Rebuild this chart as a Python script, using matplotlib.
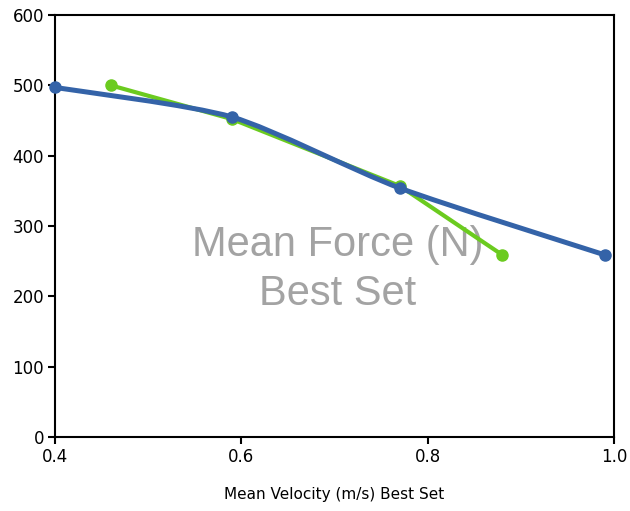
import matplotlib
matplotlib.use("Agg")
import matplotlib.pyplot as plt
from matplotlib.path import Path
from matplotlib.patches import PathPatch

# green series (straight segments)
green_x = [0.46, 0.59, 0.77, 0.88]
green_y = [500, 452, 357, 259]

# blue series (smoothed line)
blue_x = [0.40, 0.59, 0.77, 0.99]
blue_y = [497, 455, 354, 259]

x_ticks = [0.4, 0.6, 0.8, 1.0]
x_tick_labels = ["0.4", "0.6", "0.8", "1.0"]
y_ticks = [0, 100, 200, 300, 400, 500, 600]

GREEN = "#6bcb1f"
BLUE = "#3463a8"


def smooth_path(xs, ys, k=0.12):
    # catmull-rom style bezier through the points
    verts = [(xs[0], ys[0])]
    codes = [Path.MOVETO]
    n = len(xs)
    for i in range(n - 1):
        x0, y0 = xs[max(i - 1, 0)], ys[max(i - 1, 0)]
        x1, y1 = xs[i], ys[i]
        x2, y2 = xs[i + 1], ys[i + 1]
        x3, y3 = xs[min(i + 2, n - 1)], ys[min(i + 2, n - 1)]
        c1 = (x1 + (x2 - x0) * k, y1 + (y2 - y0) * k)
        c2 = (x2 - (x3 - x1) * k, y2 - (y3 - y1) * k)
        verts += [c1, c2, (x2, y2)]
        codes += [Path.CURVE4] * 3
    return Path(verts, codes)


fig = plt.figure(figsize=(6.3, 5.11), dpi=100)
ax = fig.add_axes([0.0873, 0.1448, 0.8873, 0.8258])

ax.plot(green_x, green_y, color=GREEN, lw=3, marker="o", ms=8, zorder=3,
        solid_capstyle="round")
ax.add_patch(PathPatch(smooth_path(blue_x, blue_y), facecolor="none",
                       edgecolor=BLUE, lw=3.6, zorder=4, capstyle="round"))
ax.plot(blue_x, blue_y, linestyle="none", marker="o", ms=8, color=BLUE,
        zorder=5, clip_on=False)

ax.text(0.505, 0.397, "Mean Force (N)\nBest Set", transform=ax.transAxes,
        ha="center", va="center", fontsize=30, color="#a3a3a3",
        family="Liberation Sans", linespacing=1.3, zorder=2)

ax.set_xlim(0.4, 1.0)
ax.set_ylim(0, 600)
ax.set_xticks(x_ticks)
ax.set_xticklabels(x_tick_labels)
ax.set_yticks(y_ticks)
ax.tick_params(direction="out", length=5, width=1.5, labelsize=12, pad=3)
for s in ax.spines.values():
    s.set_linewidth(1.5)
ax.set_xlabel("Mean Velocity (m/s) Best Set", fontsize=11, labelpad=15)

fig.savefig("out.png", dpi=100)
